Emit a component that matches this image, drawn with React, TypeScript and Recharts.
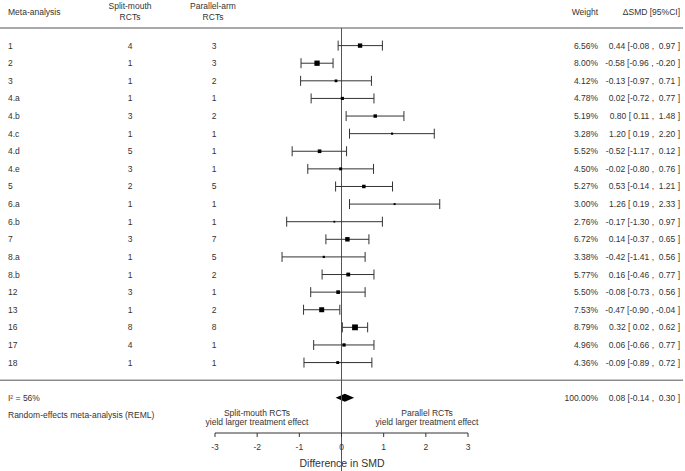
import { ScatterChart, Scatter, XAxis, YAxis, ErrorBar, ReferenceLine, ReferenceArea } from 'recharts'

const ROW_LABELS = ['1', '2', '3', '4.a', '4.b', '4.c', '4.d', '4.e', '5', '6.a', '6.b', '7', '8.a', '8.b', '12', '13', '16', '17', '18']
const SPLIT_MOUTH = [4, 1, 1, 1, 3, 1, 5, 3, 2, 1, 1, 3, 1, 1, 3, 1, 8, 4, 1]
const PARALLEL_ARM = [3, 3, 2, 1, 2, 1, 1, 1, 5, 1, 1, 7, 5, 2, 1, 2, 8, 1, 1]
const WEIGHTS = [6.56, 8.0, 4.12, 4.78, 5.19, 3.28, 5.52, 4.5, 5.27, 3.0, 2.76, 6.72, 3.38, 5.77, 5.5, 7.53, 8.79, 4.96, 4.36]
const SMD = [0.44, -0.58, -0.13, 0.02, 0.8, 1.2, -0.52, -0.02, 0.53, 1.26, -0.17, 0.14, -0.42, 0.16, -0.08, -0.47, 0.32, 0.06, -0.09]
const CI_LOW = [-0.08, -0.96, -0.97, -0.72, 0.11, 0.19, -1.17, -0.8, -0.14, 0.19, -1.3, -0.37, -1.41, -0.46, -0.73, -0.9, 0.02, -0.66, -0.89]
const CI_HIGH = [0.97, -0.2, 0.71, 0.77, 1.48, 2.2, 0.12, 0.76, 1.21, 2.33, 0.97, 0.65, 0.56, 0.77, 0.56, -0.04, 0.62, 0.77, 0.72]

const POOLED_SMD = 0.08
const POOLED_LOW = -0.14
const POOLED_HIGH = 0.3
const I_SQUARED = 56
const X_TICKS = [-3, -2, -1, 0, 1, 2, 3]

const FONT = '"Liberation Sans", Arial, sans-serif'
const INK = '#333'
const FS = 8.5

// row layout (y units): header line at -1, studies 0..18, separator, pooled, method note
const SEP_ROW = ROW_LABELS.length
const POOLED_ROW = SEP_ROW + 1
const METHOD_ROW = SEP_ROW + 2

const rows = ROW_LABELS.map((label, i) => ({
  row: i,
  label,
  split: SPLIT_MOUTH[i],
  parallel: PARALLEL_ARM[i],
  weight: WEIGHTS[i],
  smd: SMD[i],
  lo: CI_LOW[i],
  hi: CI_HIGH[i],
  err: [SMD[i] - CI_LOW[i], CI_HIGH[i] - SMD[i]],
}))

const fmt = (v: number) => v.toFixed(2)
const pad = (v: number) => (v < 0 ? fmt(v) : ' ' + fmt(v))
const ciText = (est: number, lo: number, hi: number) => `${fmt(est)} [${pad(lo)} , ${pad(hi)} ]`

function Txt({ x, y, anchor = 'start', size = FS, children }: any) {
  return (
    <text x={x} y={y} textAnchor={anchor} dominantBaseline="central" fontSize={size} fill={INK} fontFamily={FONT} style={{ whiteSpace: 'pre' }}>
      {children}
    </text>
  )
}

function RowTick({ y, payload }: any) {
  const r = payload.value
  if (r === POOLED_ROW) {
    return (
      <g>
        <Txt x={8} y={y}>I² = {I_SQUARED}%</Txt>
        <Txt x={598} y={y} anchor="end">100.00%</Txt>
        <Txt x={680} y={y} anchor="end">{ciText(POOLED_SMD, POOLED_LOW, POOLED_HIGH)}</Txt>
      </g>
    )
  }
  if (r === METHOD_ROW) {
    return <Txt x={8} y={y}>Random-effects meta-analysis (REML)</Txt>
  }
  const d = rows[r]
  if (!d) return null
  return (
    <g>
      <Txt x={8} y={y}>{d.label}</Txt>
      <Txt x={130} y={y} anchor="middle">{d.split}</Txt>
      <Txt x={214} y={y} anchor="middle">{d.parallel}</Txt>
      <Txt x={598} y={y} anchor="end">{d.weight.toFixed(2)}%</Txt>
      <Txt x={680} y={y} anchor="end">{ciText(d.smd, d.lo, d.hi)}</Txt>
    </g>
  )
}

function WeightSquare({ cx, cy, payload }: any) {
  const s = payload.weight * 0.66
  return <rect x={cx - s / 2} y={cy - s / 2} width={s} height={s} fill="#000" />
}

function Diamond({ x, y, width, height }: any) {
  const mid = x + (width * (POOLED_SMD - POOLED_LOW)) / (POOLED_HIGH - POOLED_LOW)
  const cy = y + height / 2
  return <polygon points={`${x},${cy} ${mid},${y} ${x + width},${cy} ${mid},${y + height}`} fill="#000" />
}

export default function App() {
  return (
    <div style={{ position: 'relative', width: 685, height: 471 }}>
      <style>{'body{margin:0}'}</style>
      <ScatterChart width={685} height={471} margin={{ top: 28, right: 217, bottom: 0, left: 0 }}>
        <XAxis
          type="number"
          dataKey="smd"
          domain={[-3, 3]}
          ticks={X_TICKS}
          allowDataOverflow
          height={38}
          tickSize={4}
          tickMargin={7}
          axisLine={{ stroke: INK }}
          tickLine={{ stroke: INK }}
          tick={{ fontSize: FS, fill: INK, fontFamily: FONT }}
        />
        <YAxis
          type="number"
          dataKey="row"
          reversed
          domain={[-1, METHOD_ROW + 1]}
          ticks={[...rows.map((r) => r.row), POOLED_ROW, METHOD_ROW]}
          interval={0}
          width={215}
          axisLine={false}
          tickLine={false}
          tick={<RowTick />}
        />
        <ReferenceLine segment={[{ x: -8.1, y: -1 }, { x: 8.1, y: -1 }]} ifOverflow="visible" stroke="#555" />
        <ReferenceLine segment={[{ x: -8.1, y: SEP_ROW }, { x: 8.1, y: SEP_ROW }]} ifOverflow="visible" stroke="#555" />
        <ReferenceLine segment={[{ x: 0, y: -1 }, { x: 0, y: 24.2 }]} ifOverflow="visible" stroke="#555" />
        <Scatter data={rows} shape={<WeightSquare />} isAnimationActive={false}>
          <ErrorBar dataKey="err" direction="x" width={5} stroke={INK} strokeWidth={1} />
        </Scatter>
        <ReferenceArea
          x1={POOLED_LOW}
          x2={POOLED_HIGH}
          y1={POOLED_ROW - 0.23}
          y2={POOLED_ROW + 0.23}
          ifOverflow="visible"
          shape={<Diamond />}
        />
      </ScatterChart>
      <svg width={685} height={471} style={{ position: 'absolute', left: 0, top: 0, pointerEvents: 'none' }}>
        <Txt x={8} y={12}>Meta-analysis</Txt>
        <Txt x={130} y={6} anchor="middle">Split-mouth</Txt>
        <Txt x={130} y={17} anchor="middle">RCTs</Txt>
        <Txt x={213} y={6} anchor="middle">Parallel-arm</Txt>
        <Txt x={213} y={17} anchor="middle">RCTs</Txt>
        <Txt x={598} y={12} anchor="end">Weight</Txt>
        <Txt x={680} y={12} anchor="end">ΔSMD [95%CI]</Txt>
        <Txt x={257} y={413} anchor="middle">Split-mouth RCTs</Txt>
        <Txt x={257} y={422} anchor="middle">yield larger treatment effect</Txt>
        <Txt x={427} y={413} anchor="middle">Parallel RCTs</Txt>
        <Txt x={427} y={422} anchor="middle">yield larger treatment effect</Txt>
        <Txt x={342} y={463} anchor="middle" size={10.5}>Difference in SMD</Txt>
      </svg>
    </div>
  )
}
